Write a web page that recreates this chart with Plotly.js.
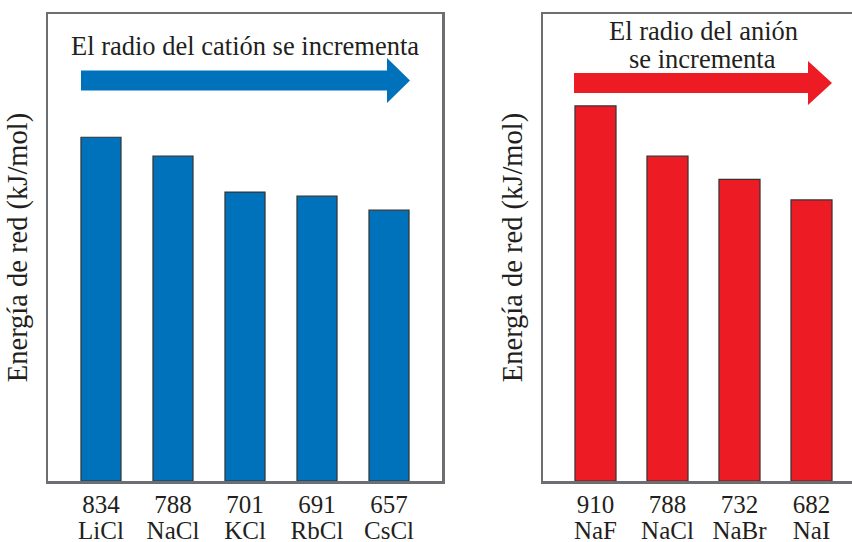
<!DOCTYPE html>
<html>
<head>
<meta charset="utf-8">
<script src="https://cdn.plot.ly/plotly-3.0.1.min.js"></script>
<style>html,body{margin:0;padding:0;background:#fff;}#chart{width:852px;height:542px;}</style>
</head>
<body>
<div id="chart"></div>
<script>
// Data
const cationCompounds = ['LiCl', 'NaCl', 'KCl', 'RbCl', 'CsCl'];
const cationEnergies = [834, 788, 701, 691, 657];
const anionCompounds = ['NaF', 'NaCl', 'NaBr', 'NaI'];
const anionEnergies = [910, 788, 732, 682];
const yTitle = 'Energía de red (kJ/mol)';
const leftHeader = 'El radio del catión se incrementa';
const rightHeader1 = 'El radio del anión';
const rightHeader2 = 'se incrementa';

const W = 852, H = 542;
const M = {l: 48, r: 0, t: 14, b: 61};
const PW = W - M.l - M.r, PH = H - M.t - M.b;
const px = v => (v - M.l) / PW;
const py = v => (H - M.b - v) / PH;

const FONT = 'Liberation Serif, Times New Roman, serif';
const TXT = '#231f20';
const BLUE = '#0072bc';
const RED = '#ed1c24';
const BOX = '#6d6e71';
const YMAX = 1133;

const traces = [
  {type: 'bar', x: cationCompounds, y: cationEnergies, xaxis: 'x', yaxis: 'y', width: 0.556,
   marker: {color: BLUE, line: {color: '#333333', width: 1.2}}, hoverinfo: 'x+y'},
  {type: 'bar', x: anionCompounds, y: anionEnergies, xaxis: 'x2', yaxis: 'y2', width: 0.57,
   marker: {color: RED, line: {color: '#333333', width: 1.2}}, hoverinfo: 'x+y'},
  // carriers for the value label axes (draw nothing)
  {type: 'scatter', mode: 'none', x: cationEnergies.map((v, i) => i), y: cationEnergies,
   xaxis: 'x3', yaxis: 'y', hoverinfo: 'skip'},
  {type: 'scatter', mode: 'none', x: anionEnergies.map((v, i) => i), y: anionEnergies,
   xaxis: 'x4', yaxis: 'y2', hoverinfo: 'skip'}
];

const baseX = {
  type: 'category', showline: true, linecolor: BOX, linewidth: 2.5, mirror: true,
  showgrid: false, zeroline: false, ticks: '', fixedrange: true,
  tickfont: {family: FONT, size: 25, color: TXT}, ticklabelstandoff: 25
};
const valX = {
  type: 'linear', showline: false, showgrid: false, zeroline: false, ticks: '', fixedrange: true,
  tickmode: 'array', tickfont: {family: FONT, size: 25, color: TXT}, ticklabelstandoff: 6
};
const baseY = {
  range: [0, YMAX], showline: true, linecolor: BOX, linewidth: 2.5, mirror: true,
  showgrid: false, zeroline: false, ticks: '', showticklabels: false, fixedrange: true,
  title: {text: yTitle, font: {family: FONT, size: 28.5, color: TXT}, standoff: 10}
};

const leftRange = [-0.736, 4.736];
const rightRange = [-0.729, 3.5625];

const layout = {
  width: W, height: H, margin: M, paper_bgcolor: '#fff', plot_bgcolor: '#fff',
  showlegend: false, bargap: 0.45,
  xaxis: Object.assign({}, baseX, {domain: [0, px(442)], range: leftRange, anchor: 'y'}),
  xaxis2: Object.assign({}, baseX, {domain: [px(543), 1], range: rightRange, anchor: 'y2'}),
  xaxis3: Object.assign({}, valX, {overlaying: 'x', anchor: 'y', range: leftRange,
    tickvals: cationEnergies.map((v, i) => i), ticktext: cationEnergies.map(String)}),
  xaxis4: Object.assign({}, valX, {overlaying: 'x2', anchor: 'y2', range: rightRange,
    tickvals: anionEnergies.map((v, i) => i), ticktext: anionEnergies.map(String)}),
  yaxis: Object.assign({}, baseY, {anchor: 'x'}),
  yaxis2: Object.assign({}, baseY, {anchor: 'x2', mirror: false}),
  shapes: [
    {type: 'path', xref: 'paper', yref: 'paper', fillcolor: BLUE, line: {width: 0},
     path: `M ${px(81)} ${py(70.5)} L ${px(387)} ${py(70.5)} L ${px(387)} ${py(58)} L ${px(410)} ${py(80.5)} L ${px(387)} ${py(103)} L ${px(387)} ${py(90.5)} L ${px(81)} ${py(90.5)} Z`},
    {type: 'path', xref: 'paper', yref: 'paper', fillcolor: RED, line: {width: 0},
     path: `M ${px(574)} ${py(73)} L ${px(808)} ${py(73)} L ${px(808)} ${py(61)} L ${px(832)} ${py(83)} L ${px(808)} ${py(105)} L ${px(808)} ${py(93)} L ${px(574)} ${py(93)} Z`}
  ],
  annotations: [
    {text: leftHeader, xref: 'paper', yref: 'paper', x: px(245), y: py(46), xanchor: 'center', yanchor: 'middle',
     showarrow: false, font: {family: FONT, size: 26.5, color: TXT}},
    {text: rightHeader1, xref: 'paper', yref: 'paper', x: px(703), y: py(31), xanchor: 'center', yanchor: 'middle',
     showarrow: false, font: {family: FONT, size: 26.5, color: TXT}},
    {text: rightHeader2, xref: 'paper', yref: 'paper', x: px(702), y: py(59.5), xanchor: 'center', yanchor: 'middle',
     showarrow: false, font: {family: FONT, size: 26.5, color: TXT}}
  ]
};

Plotly.newPlot('chart', traces, layout, {displayModeBar: false, staticPlot: true});
</script>
</body>
</html>
